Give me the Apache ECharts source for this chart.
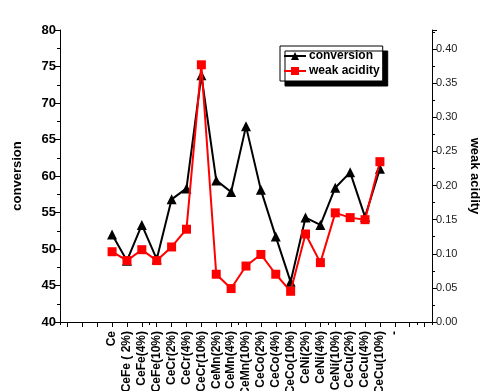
<!DOCTYPE html>
<html>
<head>
<meta charset="utf-8">
<script src="https://cdn.jsdelivr.net/npm/echarts@6/dist/echarts.min.js"></script>
<style>
  html, body { margin: 0; padding: 0; background: #fff; }
  #chart { width: 483px; height: 391px; }
</style>
</head>
<body>
<div id="chart"></div>
<script>
// Catalyst samples along the x axis
const samples = [
  'Ce', 'CeFe ( 2%)', 'CeFe(4%)', 'CeFe(10%)',
  'CeCr(2%)', 'CeCr(4%)', 'CeCr(10%)',
  'CeMn(2%)', 'CeMn(4%)', 'CeMn(10%)',
  'CeCo(2%)', 'CeCo(4%)', 'CeCo(10%)',
  'CeNi(2%)', 'CeNi(4%)', 'CeNi(10%)',
  'CeCu(2%)', 'CeCu(4%)', 'CeCu(10%)', '-'
];
// Empty slots before and after the samples on the category axis
const leadingSlots = 3;
const trailingSlots = 2;

// Conversion (%) per sample
const conversion = [
  52.0, 48.4, 53.3, 48.6, 56.8, 58.3, 73.8,
  59.4, 57.8, 66.8, 58.1, 51.7, 45.5,
  54.3, 53.3, 58.4, 60.5, 54.4, 61.0
];
// Weak acidity per sample
const weakAcidity = [
  0.103, 0.090, 0.106, 0.090, 0.110, 0.136, 0.377,
  0.070, 0.049, 0.082, 0.099, 0.070, 0.045,
  0.129, 0.087, 0.160, 0.153, 0.150, 0.235
];

// Left and right axis tick settings
const convTicks = { min: 40, max: 80, interval: 5 };
const acidTicks = { min: 0, max: 0.428, interval: 0.05 };

const pad = n => Array.from({ length: n }, () => '');
const categories = pad(leadingSlots).concat(samples, pad(trailingSlots));
const toSeries = vals => Array(leadingSlots).fill(null).concat(vals);

const chart = echarts.init(document.getElementById('chart'), null, { renderer: 'canvas' });

const axisLineStyle = { color: '#000', width: 1 };
const font = 'Liberation Sans, Arial';

chart.setOption({
  animation: false,
  backgroundColor: '#fff',
  grid: { left: 60, right: 51, top: 30, bottom: 69, outerBoundsMode: 'none', containLabel: false },
  legend: {
    orient: 'vertical',
    left: 280,
    top: 46,
    padding: [4, 3, 4, 3],
    itemGap: 3,
    itemWidth: 22,
    itemHeight: 10,
    backgroundColor: '#fff',
    borderColor: '#000',
    borderWidth: 1,
    borderRadius: 0,
    shadowColor: '#000',
    shadowOffsetX: 5,
    shadowOffsetY: 5,
    shadowBlur: 0,
    textStyle: { fontFamily: font, fontWeight: 'bold', fontSize: 12, color: '#000', padding: [0, 0, 0, -2] },
    data: ['conversion', 'weak acidity']
  },
  xAxis: [
    {
      type: 'category',
      data: categories,
      boundaryGap: true,
      axisLine: { show: true, onZero: false, lineStyle: axisLineStyle },
      axisTick: { show: true, alignWithLabel: true, length: 5, lineStyle: axisLineStyle },
      axisLabel: {
        interval: 0,
        rotate: 90,
        margin: 9,
        fontFamily: font,
        fontWeight: 'bold',
        fontSize: 12,
        color: '#000'
      },
      splitLine: { show: false }
    },
    {
      type: 'category',
      data: categories,
      boundaryGap: true,
      position: 'bottom',
      axisLine: { show: false },
      axisTick: { show: true, alignWithLabel: false, length: 3, lineStyle: axisLineStyle },
      axisLabel: { show: false },
      splitLine: { show: false }
    }
  ],
  yAxis: [
    {
      type: 'value',
      min: convTicks.min,
      max: convTicks.max,
      interval: convTicks.interval,
      name: 'conversion',
      nameLocation: 'middle',
      nameGap: 36,
      nameRotate: 90,
      nameTextStyle: { fontFamily: font, fontWeight: 'bold', fontSize: 13, color: '#000' },
      axisLine: { show: true, lineStyle: axisLineStyle },
      axisTick: { show: true, length: 5, lineStyle: axisLineStyle },
      minorTick: { show: true, splitNumber: 2, length: 3, lineStyle: axisLineStyle },
      axisLabel: { fontFamily: font, fontWeight: 'bold', fontSize: 13, color: '#000', margin: 4 },
      splitLine: { show: false }
    },
    {
      type: 'value',
      position: 'right',
      min: acidTicks.min,
      max: acidTicks.max,
      interval: acidTicks.interval,
      name: 'weak acidity',
      nameLocation: 'middle',
      nameGap: 34,
      nameRotate: -90,
      nameTextStyle: { fontFamily: font, fontWeight: 'bold', fontSize: 13, color: '#000' },
      axisLine: { show: true, lineStyle: axisLineStyle },
      axisTick: { show: true, length: 5, lineStyle: axisLineStyle },
      minorTick: { show: true, splitNumber: 2, length: 3, lineStyle: axisLineStyle },
      axisLabel: {
        fontFamily: font,
        fontSize: 11,
        color: '#222',
        margin: 4,
        showMaxLabel: false,
        formatter: v => v.toFixed(2)
      },
      splitLine: { show: false }
    }
  ],
  series: [
    {
      name: 'conversion',
      type: 'line',
      xAxisIndex: 0,
      yAxisIndex: 0,
      data: toSeries(conversion),
      symbol: 'triangle',
      symbolSize: 10,
      showAllSymbol: true,
      connectNulls: false,
      lineStyle: { color: '#000', width: 2 },
      itemStyle: { color: '#000' },
      z: 2
    },
    {
      name: 'weak acidity',
      type: 'line',
      xAxisIndex: 0,
      yAxisIndex: 1,
      data: toSeries(weakAcidity),
      symbol: 'rect',
      symbolSize: 9,
      showAllSymbol: true,
      connectNulls: false,
      lineStyle: { color: '#ff0000', width: 2 },
      itemStyle: { color: '#ff0000' },
      z: 3
    }
  ]
});
</script>
</body>
</html>
